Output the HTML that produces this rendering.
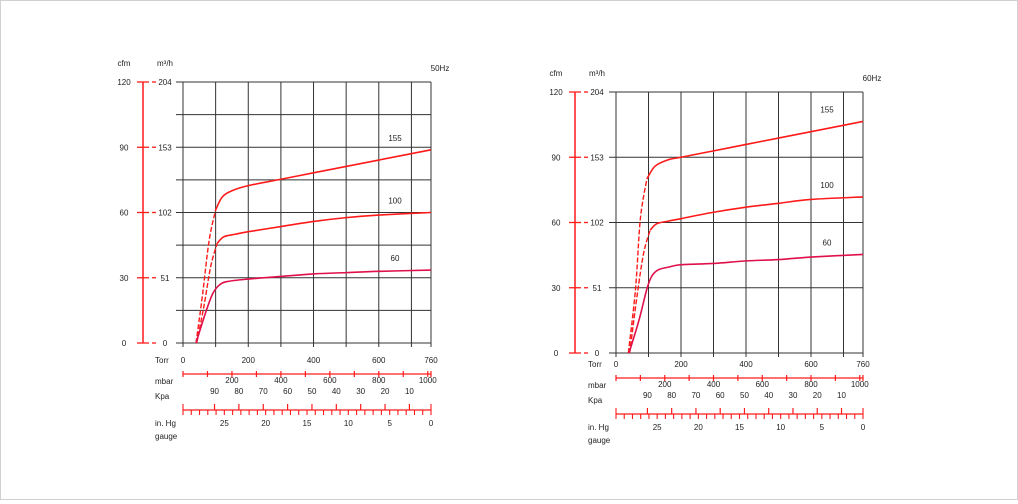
<!DOCTYPE html>
<html><head><meta charset="utf-8">
<style>
html,body{margin:0;padding:0;background:#fff}
#wrap{position:relative;width:1016px;height:498px;border:1px solid #d0d0d0;background:#fff}
svg text{font-family:"Liberation Sans",sans-serif;font-size:8px;fill:#222}
</style></head>
<body>
<div id="wrap">
<svg id="svg" width="1016" height="498" viewBox="1 1 1016 498"></svg>
</div>
<script>
// ---- data: 50 Hz ----
const torrTicks = [0, 200, 400, 600, 760];
const m3hTicks = [0, 51, 102, 153, 204];
const cfmTicks = [0, 30, 60, 90, 120];
const mbarLabels = [200, 400, 600, 800, 1000];
const kpaLabels = [90, 80, 70, 60, 50, 40, 30, 20, 10];
const inHgLabels = [25, 20, 15, 10, 5, 0];
const seriesNames = ["155", "100", "60"];

const hz50_torr155 = [40, 60, 80, 100, 120, 150, 200, 300, 400, 500, 600, 760];
const hz50_val155  = [0, 38, 80, 104, 114, 119, 123, 128, 133, 138, 143, 151];
const hz50_torr100 = [42, 65, 85, 105, 125, 160, 200, 300, 400, 500, 600, 760];
const hz50_val100  = [0, 30, 60, 78, 83, 85, 87, 91, 95, 98, 100, 102];
const hz50_torr60  = [40, 67, 90, 110, 135, 200, 300, 400, 500, 600, 760];
const hz50_val60   = [0, 22, 38, 45, 48, 50, 52, 54, 55, 56, 57];

// ---- data: 60 Hz ----
const hz60_torr155 = [38, 60, 75, 95, 120, 160, 200, 300, 400, 500, 600, 760];
const hz60_val155  = [0, 50, 105, 136, 146, 151, 153, 158, 163, 168, 173, 181];
const hz60_torr100 = [42, 65, 85, 105, 125, 160, 200, 300, 400, 500, 600, 760];
const hz60_val100  = [0, 45, 78, 96, 101, 103, 105, 110, 114, 117, 120, 122];
const hz60_torr60  = [40, 70, 95, 110, 130, 160, 200, 300, 400, 500, 600, 760];
const hz60_val60   = [0, 25, 50, 60, 65, 67, 69, 70, 72, 73, 75, 77];

const NS = "http://www.w3.org/2000/svg";
const svg = document.getElementById('svg');
function mk(tag, attrs, parent) {
  const e = document.createElementNS(NS, tag);
  for (const k in attrs) e.setAttribute(k, attrs[k]);
  (parent || svg).appendChild(e);
  return e;
}
function txt(x, y, s, anchor, parent, name) {
  const t = mk('text', {x: x, y: y, 'text-anchor': anchor || 'middle'}, parent);
  t.textContent = s;
  
  
  return t;
}
function catmull(pts) {
  let d = 'M' + pts[0][0] + ',' + pts[0][1];
  for (let i = 0; i < pts.length - 1; i++) {
    const p0 = pts[Math.max(0, i - 1)], p1 = pts[i], p2 = pts[i + 1], p3 = pts[Math.min(pts.length - 1, i + 2)];
    const c1 = [p1[0] + (p2[0] - p0[0]) / 6, p1[1] + (p2[1] - p0[1]) / 6];
    const c2 = [p2[0] - (p3[0] - p1[0]) / 6, p2[1] - (p3[1] - p1[1]) / 6];
    d += 'C' + c1[0] + ',' + c1[1] + ' ' + c2[0] + ',' + c2[1] + ' ' + p2[0] + ',' + p2[1];
  }
  return d;
}

function chart(o) {
  const g = mk('g', {});
  
  
  const X = t => o.x0 + (t / 760) * (o.x1 - o.x0);
  const Y = v => o.y1 - (v / 204) * (o.y1 - o.y0);
  const red = '#ff1a1a';
  for (let t = 100; t < 760; t += 100) {
    const l = mk('line', {x1: X(t), x2: X(t), y1: o.y0, y2: o.y1 + 4, stroke: '#333', 'stroke-width': 1}, g);
    
    
  }
  [0, 760].forEach(t => {
    const l = mk('line', {x1: X(t), x2: X(t), y1: o.y0, y2: o.y1 + 4, stroke: '#333', 'stroke-width': 1}, g);
    
    
  });
  for (let v = 0; v <= 204.1; v += o.hstep) {
    const l = mk('line', {x1: o.x0 - 7, x2: o.x1, y1: Y(v), y2: Y(v), stroke: '#333', 'stroke-width': 1}, g);
    
    
  }
  const ax = mk('line', {x1: o.cx, x2: o.cx, y1: o.y0, y2: o.y1, stroke: red, 'stroke-width': 1.5}, g);
  
  
  m3hTicks.forEach((v, i) => {
    const tk = mk('line', {x1: o.cx - 6, x2: o.cx + 6, y1: Y(v), y2: Y(v), stroke: red, 'stroke-width': 1.3}, g);
    
    
    const tk2 = mk('line', {x1: o.cx + 9, x2: o.cx + 13, y1: Y(v), y2: Y(v), stroke: red, 'stroke-width': 1.3}, g);
    
    
    txt(o.cx - 19, Y(v) + 3, String(cfmTicks[i]), 'middle', g, 'cfm-tick-label');
    txt(o.cx + 22, Y(v) + 3, String(v), 'middle', g, 'm3h-tick-label');
  });
  txt(o.cx - 19, o.y0 - 16, 'cfm', 'middle', g, 'cfm-title');
  txt(o.cx + 22, o.y0 - 16, 'm³/h', 'middle', g, 'm3h-title');
  txt(o.x1 + 9, o.y0 - 11, o.hz, 'middle', g, 'frequency-label');
  const colors = [red, red, '#e0104a'];
  o.series.forEach((s, i) => {
    const pts = s.t.map((t, j) => [X(t), Y(s.v[j])]);
    if (s.dash > 0) {
      const p1 = mk('path', {d: catmull(pts.slice(0, s.dash + 1)), fill: 'none', stroke: colors[i], 'stroke-width': 1.4, 'stroke-dasharray': '5,2'}, g);
      
      
      const p2 = mk('path', {d: catmull(pts.slice(s.dash)), fill: 'none', stroke: colors[i], 'stroke-width': 1.6}, g);
      
      
    } else {
      const p = mk('path', {d: catmull(pts), fill: 'none', stroke: colors[i], 'stroke-width': 1.6}, g);
      
      
    }
    const last = pts[pts.length - 1];
    txt(last[0] - 36, last[1] - 9, seriesNames[i], 'middle', g, 'curve-label');
  });
  const L = o.x0, W = o.x1 - o.x0;
  txt(L - 28, o.ty, 'Torr', 'start', g, 'torr-title');
  torrTicks.forEach(t => txt(X(t), o.ty, String(t), 'middle', g, 'torr-tick-label'));
  const my = o.ty + 11;
  const ml = mk('line', {x1: L, x2: L + W, y1: my, y2: my, stroke: red, 'stroke-width': 1.3}, g);
  
  
  const mb = m => L + (m / 1013.25) * W;
  for (let m = 0; m <= 1000; m += 100) {
    const tk = mk('line', {x1: mb(m), x2: mb(m), y1: my - 3, y2: my + 3, stroke: red, 'stroke-width': 1.2}, g);
    
    
  }
  const tk3 = mk('line', {x1: L + W, x2: L + W, y1: my - 3, y2: my + 3, stroke: red, 'stroke-width': 1.2}, g);
  
  
  txt(L - 28, my + 10, 'mbar', 'start', g, 'mbar-title');
  mbarLabels.forEach(m => txt(mb(m), my + 9, String(m), 'middle', g, 'mbar-tick-label'));
  const ky = my + 20;
  txt(L - 28, ky + 5, 'Kpa', 'start', g, 'kpa-title');
  const kp = k => L + ((101.3 - k) / 101.3) * W * 0.995 + 4;
  kpaLabels.forEach(k => txt(kp(k), ky, String(k), 'middle', g, 'kpa-tick-label'));
  const iy = ky + 16;
  const il = mk('line', {x1: L, x2: L + W, y1: iy, y2: iy, stroke: red, 'stroke-width': 1.3}, g);
  
  
  kpaLabels.forEach(k => {
    const tk = mk('line', {x1: kp(k), x2: kp(k), y1: iy - 6, y2: iy, stroke: red, 'stroke-width': 1.2}, g);
    
    
  });
  const ih = h => L + W - (h / 30) * W;
  for (let h = 0; h <= 30; h++) {
    const big = (h === 0 || h === 30);
    const tk = mk('line', {x1: ih(h), x2: ih(h), y1: big ? iy - 6 : iy, y2: iy + 5, stroke: red, 'stroke-width': 1.1}, g);
    
    
  }
  txt(L - 28, iy + 16, 'in. Hg', 'start', g, 'inhg-title');
  txt(L - 28, iy + 29, 'gauge', 'start', g, 'gauge-title');
  inHgLabels.forEach(h => txt(ih(h), iy + 16, String(h), 'middle', g, 'inhg-tick-label'));
}

chart({name: 'chart-50hz', hz: '50Hz', x0: 183, x1: 431, y0: 82, y1: 343, cx: 143, hstep: 25.5, ty: 363,
  series: [
    {t: hz50_torr155, v: hz50_val155, dash: 3},
    {t: hz50_torr100, v: hz50_val100, dash: 3},
    {t: hz50_torr60, v: hz50_val60, dash: 0}
  ]});
chart({name: 'chart-60hz', hz: '60Hz', x0: 616, x1: 863, y0: 92, y1: 353, cx: 575, hstep: 51, ty: 367,
  series: [
    {t: hz60_torr155, v: hz60_val155, dash: 3},
    {t: hz60_torr100, v: hz60_val100, dash: 3},
    {t: hz60_torr60, v: hz60_val60, dash: 0}
  ]});
</script>
</body></html>
